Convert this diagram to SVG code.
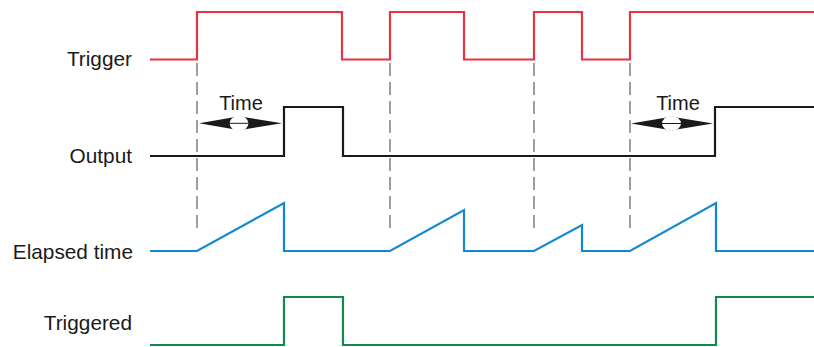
<svg xmlns="http://www.w3.org/2000/svg" width="814" height="347" viewBox="0 0 814 347">
<style>
.lbl{font-family:"Liberation Sans",Arial,sans-serif;font-size:20.8px;fill:#1a1a1a;text-anchor:end}
.tm{font-family:"Liberation Sans",Arial,sans-serif;font-size:20px;fill:#1a1a1a;text-anchor:middle}
.sig{fill:none;stroke-width:2.2;stroke-linejoin:miter}
.dash{stroke:#6a6a6a;stroke-width:1.3;stroke-dasharray:13 6;fill:none}
.head{fill:#1a1a1a}
</style>
<rect width="814" height="347" fill="#ffffff"/>
<g id="labels">
<text class="lbl" x="132" y="66">Trigger</text>
<text class="lbl" x="132" y="163">Output</text>
<text class="lbl" x="133" y="259">Elapsed time</text>
<text class="lbl" x="132" y="330">Triggered</text>
</g>
<g id="guides">
<line class="dash" x1="197" y1="63" x2="197" y2="233"/>
<line class="dash" x1="390" y1="63" x2="390" y2="233"/>
<line class="dash" x1="534" y1="63" x2="534" y2="233"/>
<line class="dash" x1="630" y1="63" x2="630" y2="233"/>
</g>
<g id="trigger">
<polyline class="sig" stroke="#e8323e" points="150,59.5 197,59.5 197,12 342,12 342,59.5 390,59.5 390,12 464,12 464,59.5 534,59.5 534,12 582,12 582,59.5 630,59.5 630,12 814,12"/>
</g>
<g id="output">
<polyline class="sig" stroke="#1a1a1a" points="150,156 284,156 284,107 343,107 343,156 715,156 715,107 814,107"/>
</g>
<g id="elapsed">
<polyline class="sig" stroke="#1089d2" points="150,251 197,251 284,203 284,251 390,251 464,210 464,251 534,251 582,225 582,251 630,251 716,203 716,251 814,251"/>
</g>
<g id="triggered">
<polyline class="sig" stroke="#108a4c" points="150,345 284,345 284,297 343,297 343,345 716,345 716,297 814,297"/>
</g>
<g id="time1">
<text class="tm" x="241" y="110">Time</text>
<polygon class="head" points="199,123.3 241,116 241,130.6"/>
<polygon class="head" points="282,123.3 237,116 237,130.6"/>
<ellipse cx="239" cy="123.3" rx="9.5" ry="7.6" fill="#ffffff"/>
<line x1="229" y1="123.3" x2="249" y2="123.3" stroke="#1a1a1a" stroke-width="1"/>
</g>
<g id="time2">
<text class="tm" x="678" y="110">Time</text>
<polygon class="head" points="631,123.5 674,116.2 674,130.8"/>
<polygon class="head" points="713,123.5 669,116.2 669,130.8"/>
<ellipse cx="671.5" cy="123.5" rx="9.5" ry="7.6" fill="#ffffff"/>
<line x1="661.5" y1="123.5" x2="681.5" y2="123.5" stroke="#1a1a1a" stroke-width="1"/>
</g>
</svg>
